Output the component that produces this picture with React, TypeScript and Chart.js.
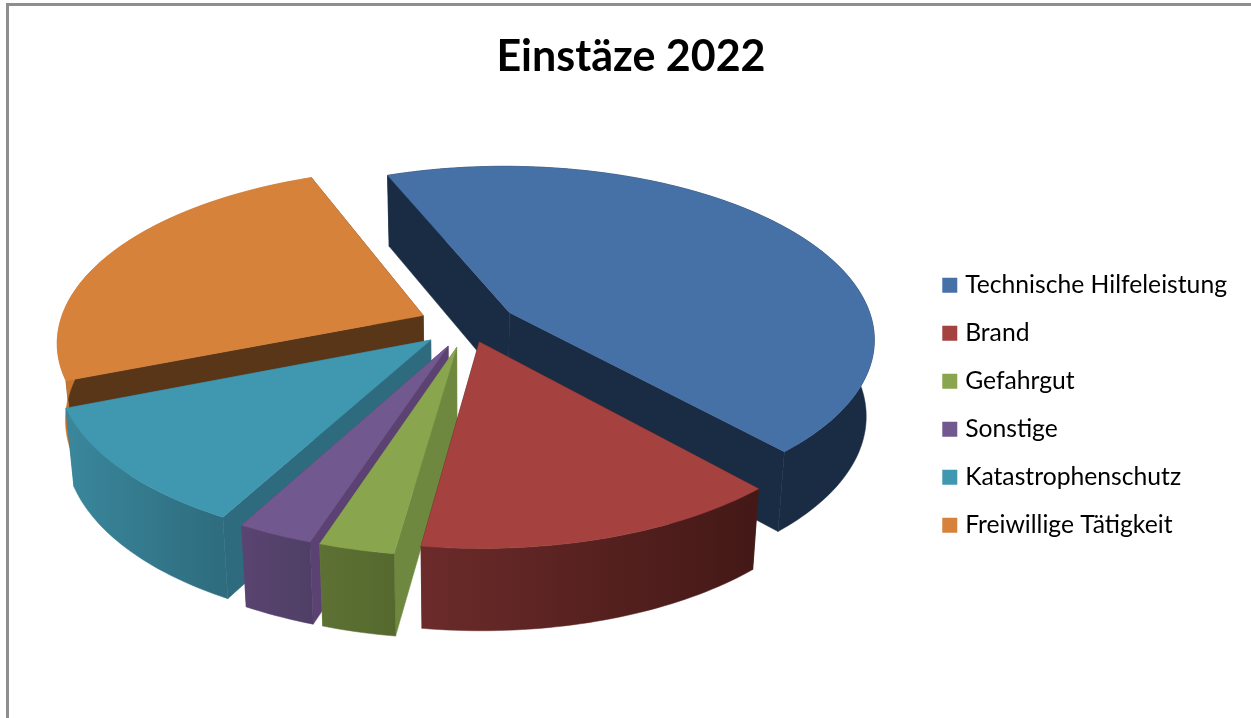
import React, { useEffect, useRef } from "react";
import { Chart, registerables } from "chart.js";

Chart.register(...registerables);

const categories = ["Technische Hilfeleistung", "Brand", "Gefahrgut", "Sonstige", "Katastrophenschutz", "Freiwillige Tätigkeit"];
const values = [159.6, 50, 10.2, 10.3, 39.9, 90];
const topColors = ["#4671a7", "#a54240", "#89a54e", "#71588f", "#4097b0", "#d6823b"];
const cutColors = ["#1a2c44", "#4a1c1a", "#6f883f", "#5b4272", "#2f6b7e", "#5a3618"];
const wallLeft = ["#1a2c44", "#6b2b2a", "#5e7134", "#5a4470", "#3a879c", "#c77632"];
const wallRight = ["#1a2c44", "#431816", "#55692e", "#4f3f66", "#2e6c7e", "#c77632"];
const paintOrder = [0, 5, 4, 3, 2, 1];
const explode = [0.135, 0.105, 0.135, 0.135, 0.135, 0.135];
const view = { cx: 468, cy: 324.5, rx: 364, ry: 170.8, k: 0.146, depth: 76, kd: 0.07, taper: 0.02 };

function project(px: number, py: number, lift: number) {
  const w = 1 - view.k * py;
  const wd = 1 - view.kd * py;
  return {
    x: view.cx + ((view.rx * px) / w) * (1 - view.taper * lift),
    y: view.cy + (view.ry * py) / w + (lift * view.depth) / wd,
  };
}

const pie3d = {
  id: "pie3d",
  beforeDatasetsDraw(chart: any) {
    const ctx = chart.ctx;
    const arcs = chart.getDatasetMeta(0).data;
    paintOrder.forEach((i) => {
      const { startAngle, endAngle } = arcs[i].getProps(["startAngle", "endAngle"], true);
      const mid = (startAngle + endAngle) / 2;
      const ox = Math.cos(mid) * explode[i];
      const oy = Math.sin(mid) * explode[i];
      const rim: { px: number; py: number }[] = [];
      const steps = Math.max(4, Math.ceil((endAngle - startAngle) / 0.02));
      for (let s = 0; s <= steps; s++) {
        const a = startAngle + ((endAngle - startAngle) * s) / steps;
        rim.push({ px: ox + Math.cos(a), py: oy + Math.sin(a) });
      }
      const first = rim[0];
      const last = rim[rim.length - 1];
      const poly = (pts: { x: number; y: number }[], fill: any) => {
        ctx.beginPath();
        pts.forEach((p, n) => (n ? ctx.lineTo(p.x, p.y) : ctx.moveTo(p.x, p.y)));
        ctx.closePath();
        ctx.fillStyle = fill;
        ctx.fill();
        ctx.strokeStyle = fill;
        ctx.lineWidth = 0.5;
        ctx.stroke();
      };
      poly([project(ox, oy, 0), project(first.px, first.py, 0), project(first.px, first.py, 1), project(ox, oy, 1)], cutColors[i]);
      poly([project(ox, oy, 0), project(last.px, last.py, 0), project(last.px, last.py, 1), project(ox, oy, 1)], cutColors[i]);
      const wallTop = rim.map((p) => project(p.px, p.py, 0));
      const wallBottom = rim.map((p) => project(p.px, p.py, 1)).reverse();
      const xs = wallTop.map((p) => p.x);
      const grad = ctx.createLinearGradient(Math.min(...xs), 0, Math.max(...xs), 0);
      grad.addColorStop(0, wallLeft[i]);
      grad.addColorStop(1, wallRight[i]);
      poly([...wallTop, ...wallBottom], grad);
      poly([project(ox, oy, 0), ...wallTop], topColors[i]);
    });
    return false;
  },
};

export default function App() {
  const ref = useRef<HTMLCanvasElement>(null);
  useEffect(() => {
    const chart = new Chart(ref.current!, {
      type: "pie",
      data: {
        labels: categories,
        datasets: [{ data: values, backgroundColor: topColors, borderWidth: 0 }],
      },
      plugins: [pie3d],
      options: {
        animation: false,
        responsive: false,
        rotation: -21.6,
        layout: { padding: { right: 25, left: 25, top: 0, bottom: 0 } },
        plugins: {
          tooltip: { enabled: false },
          title: {
            display: true,
            text: "Einstäze 2022",
            color: "#000000",
            font: { family: "Lato", size: 43, weight: "bold" },
            padding: { top: 31, bottom: 10 },
          },
          legend: {
            position: "right",
            fullSize: false,
            labels: {
              color: "#000000",
              font: { family: "Lato", size: 24.7 },
              boxWidth: 6,
              boxHeight: 6,
              padding: 23.3,
              generateLabels: () =>
                categories.map((text, i) => ({
                  text,
                  fillStyle: topColors[i],
                  strokeStyle: topColors[i],
                  lineWidth: 9,
                  hidden: false,
                  index: i,
                })),
            },
          },
        },
      } as any,
    });
    return () => chart.destroy();
  }, []);
  return (
    <div style={{ position: "fixed", left: 0, top: 0, width: 1251, height: 718, overflow: "hidden", background: "#fff" }}>
      <div style={{ position: "absolute", left: 6, top: 3, width: 1400, height: 800, border: "3px solid #8e8e8e" }} />
      <canvas ref={ref} width={1262} height={718} style={{ position: "absolute", left: 0, top: 0, display: "block" }} />
    </div>
  );
}
